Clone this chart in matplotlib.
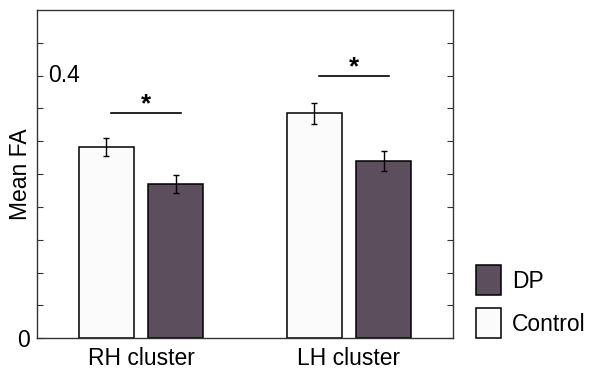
import matplotlib
matplotlib.use("Agg")
import matplotlib.pyplot as plt
from matplotlib.patches import Patch
import matplotlib.transforms as mtransforms
import numpy as np

plt.rcParams['font.family'] = ['Liberation Sans', 'DejaVu Sans']

categories = ["RH cluster", "LH cluster"]
control_mean = [0.291, 0.343]
control_err = [0.014, 0.016]
dp_mean = [0.235, 0.270]
dp_err = [0.013, 0.015]
sig_level = [0.343, 0.400]
ytick_vals = [0, 0.05, 0.1, 0.15, 0.2, 0.25, 0.3, 0.35, 0.4, 0.45]
ytick_labels = ["0", "", "", "", "", "", "", "", "", ""]
inner_label_val = 0.4
inner_label = "0.4"

dp_color = "#5d4e5e"
ctrl_color = "#fbfbfb"
fs = 16.5

fig = plt.figure(figsize=(5.89, 3.75), dpi=100)
ax = fig.add_axes([37/589, 1-338.3/375, (453-37)/589, (338.3-10)/375])

x = np.arange(1, len(categories) + 1)
w = 0.264
off = 0.167
ax.bar(x - off, control_mean, w, color=ctrl_color, edgecolor='black', linewidth=1.1, zorder=2)
ax.bar(x + off, dp_mean, w, color=dp_color, edgecolor='black', linewidth=1.1, zorder=2)
ax.errorbar(x - off, control_mean, yerr=control_err, fmt='none', ecolor='black',
            elinewidth=1.0, capsize=2, capthick=1.0, zorder=3)
ax.errorbar(x + off, dp_mean, yerr=dp_err, fmt='none', ecolor='black',
            elinewidth=1.0, capsize=2, capthick=1.0, zorder=3)

for xi, s in zip(x, sig_level):
    x0, x1 = xi - 0.142, xi + 0.192
    ax.plot([x0, x1], [s, s], color='black', lw=1.2)
    ax.text((x0 + x1) / 2, s - 0.005, "*", ha='center', va='bottom', fontsize=fs + 2, fontweight='bold')

ax.set_xlim(0.5, 2.5)
ax.set_ylim(0, 0.5)
ax.set_xticks(x)
ax.set_xticklabels(categories, fontsize=fs)
ax.tick_params(axis='x', length=0, pad=6)
ax.set_yticks(ytick_vals)
ax.set_yticklabels(ytick_labels, fontsize=fs)
ax.tick_params(axis='y', direction='in', length=4, width=0.8, right=True, pad=5, color='#333333')
trans = mtransforms.blended_transform_factory(ax.transAxes, ax.transData)
ax.text(0.027, inner_label_val, inner_label, transform=trans, ha='left', va='center', fontsize=fs)
ax.set_ylabel("Mean FA", fontsize=fs)
ax.yaxis.set_label_coords(-0.012, 0.5)
for sp in ax.spines.values():
    sp.set_linewidth(1.0)
    sp.set_color('#333333')

handles = [Patch(facecolor=dp_color, edgecolor='black', linewidth=1.1, label='DP'),
           Patch(facecolor=ctrl_color, edgecolor='black', linewidth=1.1, label='Control')]
fig.legend(handles=handles, loc='upper left', bbox_to_anchor=(476/589, 1-265/375),
           frameon=False, fontsize=fs, handlelength=1.09, handleheight=1.64,
           handletextpad=0.48, labelspacing=0.57, borderpad=0, borderaxespad=0)

fig.savefig("out.png", dpi=100)
